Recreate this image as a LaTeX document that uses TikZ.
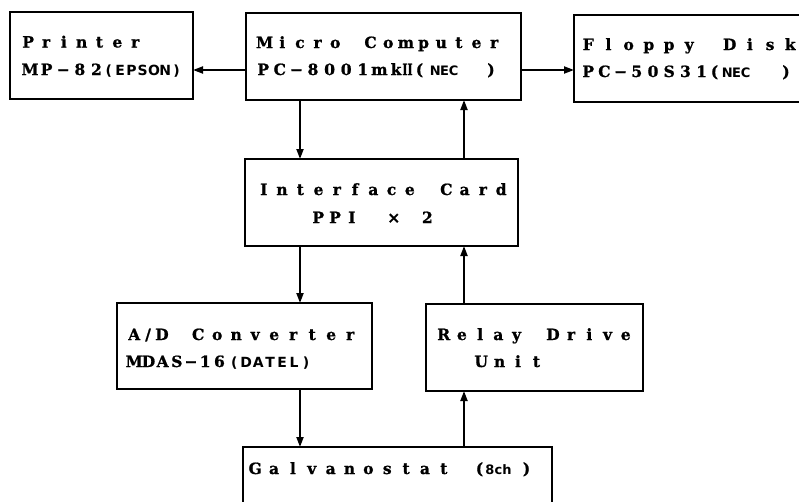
\documentclass[tikz,border=0pt]{standalone}
\usepackage{fontspec}
\usepackage{graphicx}
\usetikzlibrary{arrows.meta}
\newfontfamily\mainf{DejaVu Serif}[BoldFeatures={FakeBold=1.0}]
\newfontfamily\smallf{DejaVu Sans}
\newdimen\sprp
\newcommand\spr[2]{{\sprp=#1\relax\sprloop#2\relax}}
\def\sprloop#1{\ifx\relax#1\else\makebox[\sprp][c]{#1}\expandafter\sprloop\fi}
\begin{document}
\begin{tikzpicture}[x=1pt,y=-1pt,
  box/.style={draw, line width=1.8pt, inner sep=0pt, outer sep=0pt},
  arr/.style={line width=2pt, -{Triangle[length=10pt,width=7pt]}},
  lbl/.style={anchor=base west, inner sep=0pt, font=\mainf\bfseries\fontsize{15.5}{18}\selectfont},
  lblc/.style={anchor=base, inner sep=0pt, font=\mainf\bfseries\fontsize{15.5}{18}\selectfont},
  smw/.style={anchor=base west, inner sep=0pt, font=\smallf\bfseries\fontsize{14}{16}\selectfont},
  smc/.style={anchor=base, inner sep=0pt, font=\smallf\bfseries\fontsize{13}{15}\selectfont}]
\fill[white] (0,0) rectangle (799,501);
\clip (0,0) rectangle (799,501);
% boxes
\node[box, minimum width=183pt, minimum height=87pt] (printer) at (101.5,55.5) {};
\node[box, minimum width=275pt, minimum height=87pt] (micro) at (383.5,56.5) {};
\node[box, minimum width=256pt, minimum height=87pt] (floppy) at (702,58.5) {};
\node[box, minimum width=273pt, minimum height=87pt] (iface) at (381.5,202.5) {};
\node[box, minimum width=255pt, minimum height=86pt] (adc) at (244.5,346) {};
\node[box, minimum width=217pt, minimum height=87pt] (relay) at (534.5,347.5) {};
\node[box, minimum width=309pt, minimum height=88pt] (galv) at (397.5,491) {};
% connectors
\coordinate (cl) at (300,0);
\coordinate (cr) at (464,0);
\coordinate (hy) at (0,70);
\draw[arr] (micro.west |- hy) -- (printer.east |- hy);
\draw[arr] (micro.east |- hy) -- (floppy.west |- hy);
\draw[arr] (micro.south -| cl) -- (iface.north -| cl);
\draw[arr] (iface.north -| cr) -- (micro.south -| cr);
\draw[arr] (iface.south -| cl) -- (adc.north -| cl);
\draw[arr] (relay.north -| cr) -- (iface.south -| cr);
\draw[arr] (adc.south -| cl) -- (galv.north -| cl);
\draw[arr] (galv.north -| cr) -- (relay.south -| cr);
% Printer
\node[lbl] (tp1) at (23.5,47.5) {\spr{8.92pt}{P~r~i~n~t~e~r}};
\node[lbl] (tp2) at (25.7,75) {\spr{8.3pt}{M~P~−~8~2}};
\node[smw] (tp3) at (103,75) {\spr{11.3pt}{(EPSON)}};
% Micro computer
\node[lbl] (tm1) at (260,48) {\spr{8.83pt}{M~i~c~r~o~~~C~o~m~p~u~t~e~r}};
\node[lbl] (tm2) at (258.85,75) {\spr{8.3pt}{P~C~−~8~0~0~1~m~k}};
\node[lblc] (tm3) at (407.5,75) {\scalebox{0.7}[1]{II}};
\node[lblc] (tm4) at (419.5,75) {(};
\node[smc] (tm5) at (444.5,75) {\spr{9.2pt}{NEC}};
\node[lblc] (tm6) at (491,75) {)};
% Floppy
\node[lbl] (tf1) at (583,50) {\spr{10.1pt}{F~l~o~p~p~y~~~D~i~s~k}};
\node[lbl] (tf2) at (583.95,77) {\spr{8.1pt}{P~C~−~5~0~S~3~1}};
\node[lblc] (tf3) at (714.5,77) {(};
\node[smc] (tf4) at (736.5,77) {\spr{9.2pt}{NEC}};
\node[lblc] (tf5) at (786,77) {)};
% Interface
\node[lbl] (ti1) at (259,195) {\spr{9.13pt}{I~n~t~e~r~f~a~c~e~~~C~a~r~d}};
\node[lbl] (ti2) at (313.8,223) {\spr{8.4pt}{P~P~I~~~~×~~~2}};
% A/D
\node[lbl] (ta1) at (127.1,340) {\spr{13.85pt}{A/D}};
\node[lbl] (ta2) at (193.25,340) {\spr{9.5pt}{C~o~n~v~e~r~t~e~r}};
\node[lbl] (ta3) at (130.5,367) {\spr{7.1pt}{M~D~A~S~−~1~6}};
\node[smw] (ta4) at (228,367) {\spr{12pt}{(DATEL)}};
% Relay
\node[lbl] (tr1) at (439,340) {\spr{9.1pt}{R~e~l~a~y~~~D~r~i~v~e}};
\node[lbl] (tr2) at (476.4,367) {\spr{9.2pt}{U~n~i~t}};
% Galvanostat
\node[lbl] (tg1) at (250.3,474) {\spr{9.43pt}{G~a~l~v~a~n~o~s~t~a~t}};
\node[lblc] (tg2) at (479.5,474) {(};
\node[smc] (tg3) at (498.5,474) {\spr{8.6pt}{8ch}};
\node[lblc] (tg4) at (526.5,474) {)};
\end{tikzpicture}
\end{document}
